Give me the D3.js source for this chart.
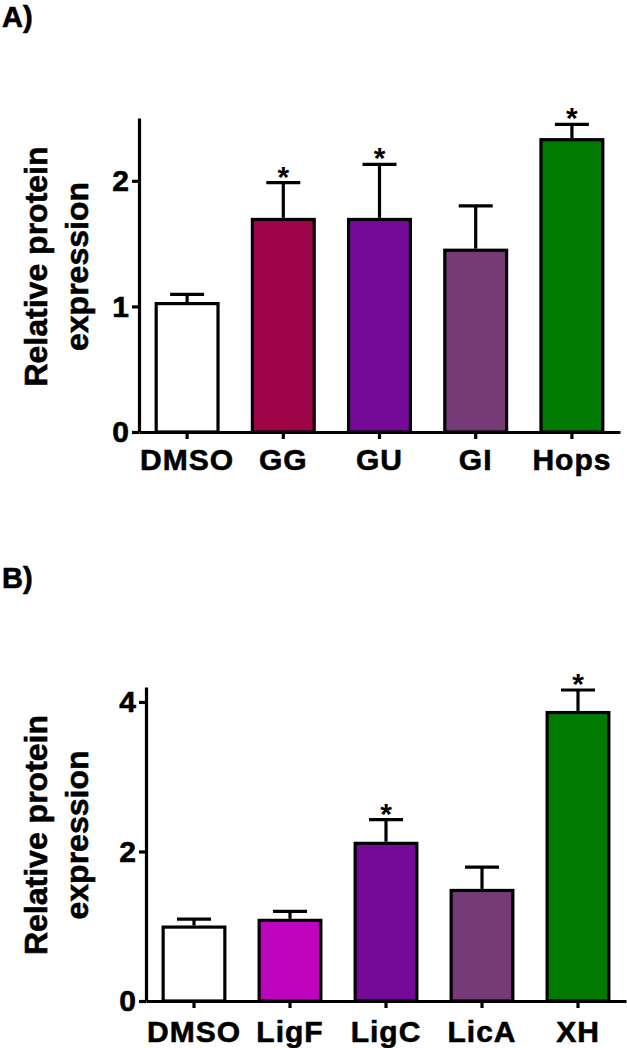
<!DOCTYPE html>
<html>
<head>
<meta charset="utf-8">
<script src="https://cdn.jsdelivr.net/npm/d3@7"></script>
<style>
  html, body { margin: 0; padding: 0; background: #fff; }
  svg { display: block; }
  text { font-family: "Liberation Sans", Arial, sans-serif; font-weight: bold; fill: #000; }
  .heavy { stroke: #000; stroke-width: 0.6px; }
</style>
</head>
<body>
<svg id="chart" width="627" height="1048"></svg>
<script>
// ---- Data ----
const categoriesA = ["DMSO", "GG", "GU", "GI", "Hops"];
const meansA      = [1.035, 1.705, 1.705, 1.46, 2.34];
const errorsA     = [0.06, 0.28, 0.425, 0.34, 0.11];
const signifA     = [false, true, true, false, true];
const colorsA     = ["#ffffff", "#9e0548", "#740a96", "#763b76", "#017a01"];
const ticksA      = [0, 1, 2];

const categoriesB = ["DMSO", "LigF", "LigC", "LicA", "XH"];
const meansB      = [1.01, 1.10, 2.13, 1.50, 3.88];
const errorsB     = [0.085, 0.10, 0.295, 0.29, 0.28];
const signifB     = [false, false, true, false, true];
const colorsB     = ["#ffffff", "#bf04bf", "#740a96", "#763b76", "#017a01"];
const ticksB      = [0, 2, 4];

const yTitle = ["Relative protein", "expression"];

const svg = d3.select("#chart");

function drawPanel(opt) {
  const g = svg.append("g");
  const x = d3.scaleBand().domain(opt.categories)
    .range([opt.x0, opt.x1]).paddingInner(0.324).paddingOuter(0.162);
  const y = d3.scaleLinear().domain([0, opt.yMax]).range([opt.yBase, opt.yTop]);
  const data = opt.categories.map((c, i) => ({ c, m: opt.means[i], e: opt.errors[i], s: opt.signif[i], col: opt.colors[i] }));

  // panel label
  g.append("text").attr("class", "heavy").attr("x", 2).attr("y", opt.labelY)
    .attr("font-size", 29).text(opt.label);

  // error bars (behind bars)
  const eb = g.append("g").attr("stroke", "#000").attr("stroke-width", 3.2);
  eb.selectAll("line.v").data(data).join("line")
    .attr("x1", d => x(d.c) + x.bandwidth() / 2).attr("x2", d => x(d.c) + x.bandwidth() / 2)
    .attr("y1", d => y(d.m)).attr("y2", d => y(d.m + d.e));
  eb.selectAll("line.h").data(data).join("line")
    .attr("x1", d => x(d.c) + x.bandwidth() / 2 - 17).attr("x2", d => x(d.c) + x.bandwidth() / 2 + 17)
    .attr("y1", d => y(d.m + d.e)).attr("y2", d => y(d.m + d.e));

  // bars
  g.selectAll("rect.bar").data(data).join("rect")
    .attr("x", d => x(d.c) + 1.6).attr("width", x.bandwidth() - 3.2)
    .attr("y", d => y(d.m) + 1.6).attr("height", d => y(0) - y(d.m) - 1.6)
    .attr("fill", d => d.col).attr("stroke", "#000").attr("stroke-width", 3.2);

  // stars
  g.selectAll("text.star").data(data.filter(d => d.s)).join("text")
    .attr("x", d => x(d.c) + x.bandwidth() / 2).attr("y", d => y(d.m + d.e) + 4)
    .attr("text-anchor", "middle").attr("font-size", 30).attr("font-weight", "normal").text("*");

  // y axis
  const ya = g.append("g").attr("transform", `translate(${opt.x0},0)`)
    .call(d3.axisLeft(y).tickValues(opt.ticks).tickFormat(d3.format("d")).tickSize(7).tickSizeOuter(0).tickPadding(3));
  ya.selectAll("path, line").attr("stroke", "#000").attr("stroke-width", 3.2);
  ya.selectAll("text").attr("class", "heavy").attr("font-size", 30)
    .attr("font-family", "Liberation Sans, Arial, sans-serif").attr("font-weight", "bold");

  // x axis
  const xa = g.append("g").attr("transform", `translate(0,${opt.yBase})`)
    .call(d3.axisBottom(x).tickSize(7).tickSizeOuter(0).tickPadding(opt.xPad));
  xa.selectAll("path, line").attr("stroke", "#000").attr("stroke-width", 3.2);
  xa.selectAll("text").attr("class", "heavy").attr("font-size", 30).attr("letter-spacing", 1)
    .attr("font-family", "Liberation Sans, Arial, sans-serif").attr("font-weight", "bold");

  // y title (two lines, rotated)
  const t = g.append("text").attr("class", "heavy").attr("transform", `translate(0,${opt.titleCY}) rotate(-90)`)
    .attr("text-anchor", "middle").attr("font-size", 32);
  t.append("tspan").attr("x", 0).attr("y", 47).text(yTitle[0]);
  t.append("tspan").attr("x", 0).attr("y", 88).text(yTitle[1]);
}

drawPanel({
  label: "A)", labelY: 27,
  categories: categoriesA, means: meansA, errors: errorsA, signif: signifA, colors: colorsA, ticks: ticksA,
  x0: 139, x1: 620, yBase: 432, yTop: 118, yMax: 2.5, xPad: 10, titleCY: 266.5
});

drawPanel({
  label: "B)", labelY: 588,
  categories: categoriesB, means: meansB, errors: errorsB, signif: signifB, colors: colorsB, ticks: ticksB,
  x0: 146, x1: 626, yBase: 1001, yTop: 687, yMax: 4.2, xPad: 12.5, titleCY: 835
});
</script>
</body>
</html>
